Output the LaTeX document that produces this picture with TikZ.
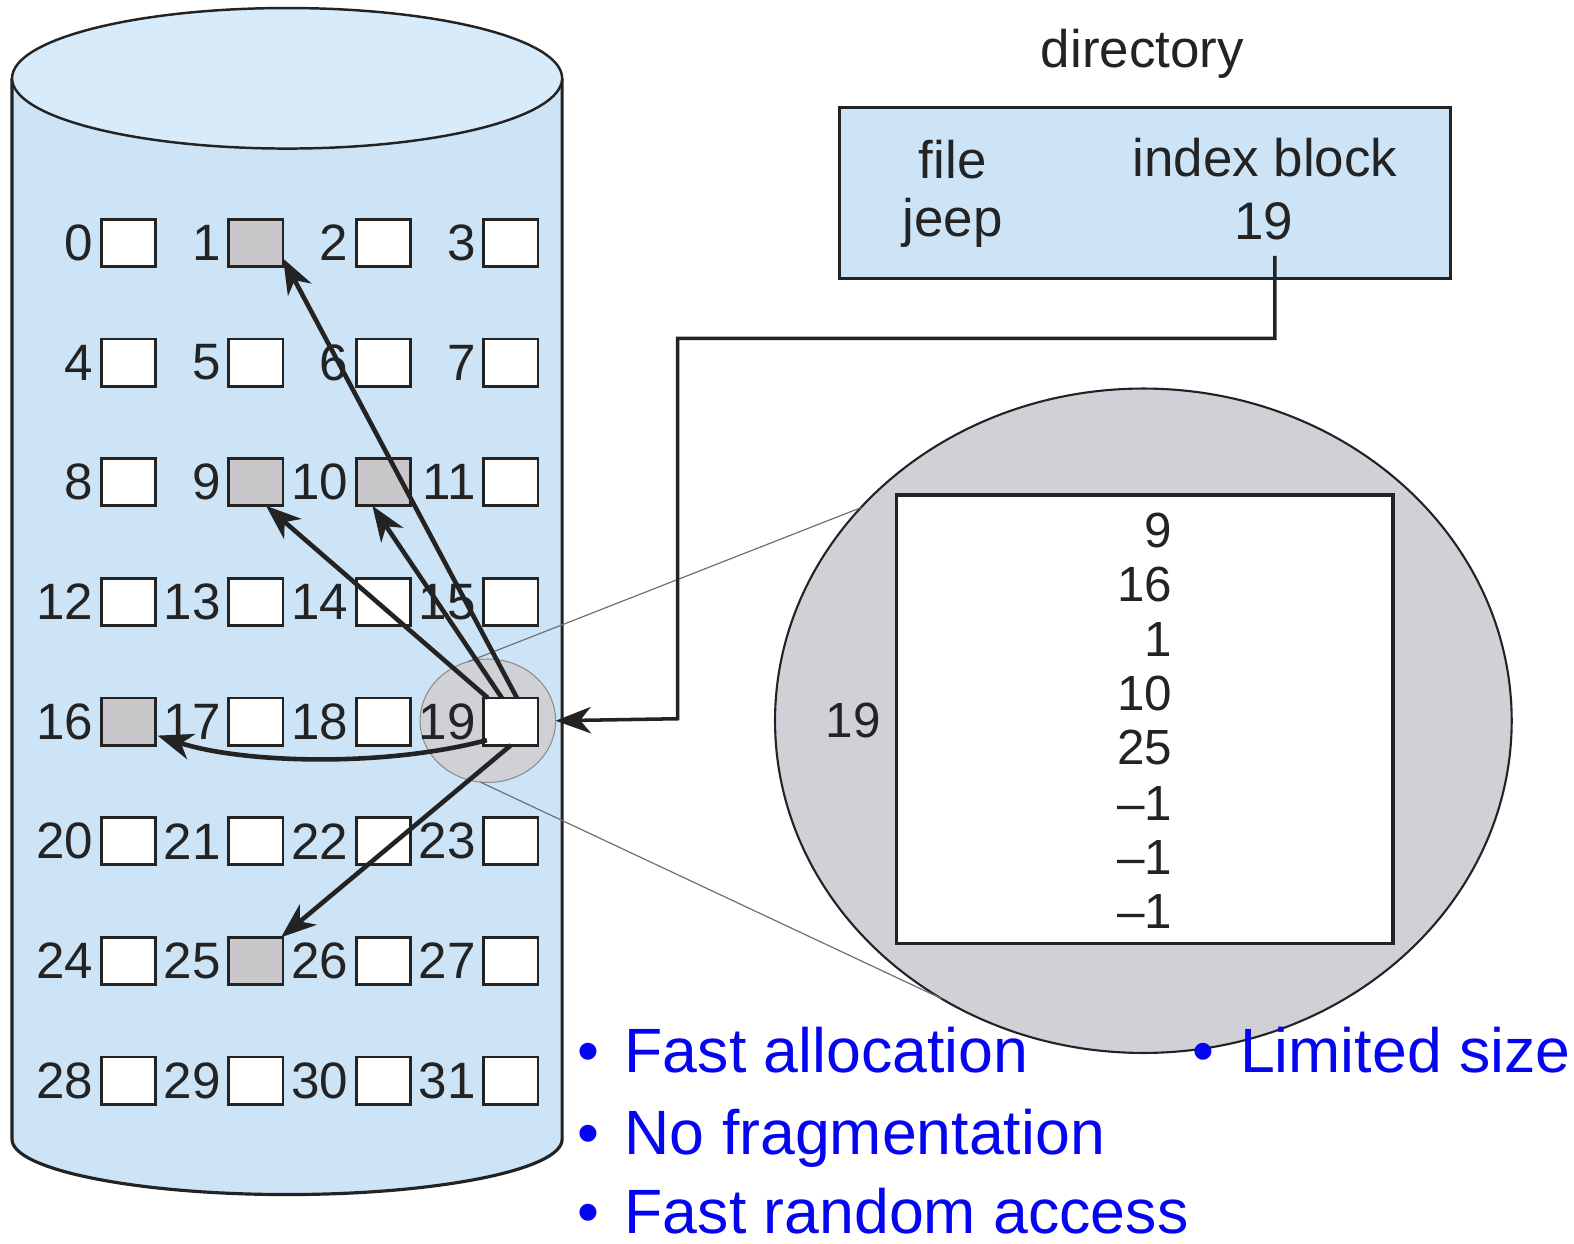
\documentclass[tikz,border=0pt]{standalone}
\usepackage{fontspec}
\setmainfont{Liberation Sans}
\usetikzlibrary{arrows.meta,shapes.geometric,calc}

\definecolor{diskblue}{RGB}{205,228,247}
\definecolor{disktop}{RGB}{216,235,250}
\definecolor{zoomgray}{RGB}{208,209,214}
\definecolor{usedgray}{RGB}{200,200,202}
\definecolor{ink}{RGB}{35,35,35}
\definecolor{notes}{RGB}{5,5,240}

\begin{document}
\begin{tikzpicture}[x=0.02cm,y=-0.02cm,
  blk/.style={draw=ink, line width=1.6pt, fill=white, minimum width=1.08cm,
              minimum height=0.94cm, inner sep=0pt, outer sep=0pt},
  used/.style={blk, fill=usedgray},
  num/.style={anchor=east, inner sep=0pt, text=ink, font=\fontsize{29}{30}\selectfont},
  lbl/.style={anchor=base, inner sep=0pt, text=ink, font=\fontsize{30}{32}\selectfont},
  idx/.style={anchor=base east, inner sep=0pt, text=ink, font=\fontsize{28}{30}\selectfont},
  tip/.style={-{Stealth[length=20pt,width=15pt,inset=6pt]}},
  ptr/.style={line width=2.6pt, draw=ink, tip},
  note/.style={inner sep=0pt, text=notes, font=\fontsize{35.5}{37}\selectfont},
]
\useasboundingbox (0,0) rectangle (1568,1239);

% disk cylinder
\path[fill=diskblue, draw=ink, line width=1.8pt]
  (12,78) -- (12,1135) .. controls (12,1165) and (135,1190) .. (286,1190)
  .. controls (437,1190) and (560,1165) .. (560,1135) -- (560,78);
\draw[fill=disktop, draw=ink, line width=1.4pt] (286,78) ellipse [x radius=274, y radius=70];

% magnified index block and its source
\node[ellipse, draw=ink, line width=1.2pt, fill=zoomgray, minimum width=14.68cm,
      minimum height=13.24cm, inner sep=0pt, outer sep=0pt] (big) at (1139,718) {};
\node[ellipse, draw=black!45, line width=0.6pt, fill=zoomgray, minimum width=2.7cm,
      minimum height=2.46cm, inner sep=0pt, outer sep=0pt] (zoom) at (486,718) {};
\draw[black!55, line width=0.7pt] (zoom.109) -- (big.143);
\draw[black!55, line width=0.7pt] (zoom.263) -- (big.234);

% disk blocks
\foreach \n/\s in {0/blk,1/used,2/blk,3/blk,4/blk,5/blk,6/blk,7/blk,
                   8/blk,9/used,10/used,11/blk,12/blk,13/blk,14/blk,15/blk,
                   16/used,17/blk,18/blk,19/blk,20/blk,21/blk,22/blk,23/blk,
                   24/blk,25/used,26/blk,27/blk,28/blk,29/blk,30/blk,31/blk} {
  \pgfmathtruncatemacro\c{mod(\n,4)}
  \pgfmathtruncatemacro\r{div(\n,4)}
  \node[\s] (b\n) at ({128+127*\c},{242+119.2*\r}) {};
  \node[num] (l\n) at ($(b\n.west)+(-8,0)$) {\n};
}

% pointers held in index block 19
\draw[ptr] ($(b19.north)+(6,0)$) -- ($(b1.south east)+(0,-8)$);
\draw[ptr] ($(b19.north)+(-9,0)$) -- ($(b10.south)+(-11,0)$);
\draw[ptr] ($(b19.north west)+(4,0)$) -- ($(b9.south)+(10,0)$);
\draw[ptr] ($(b19.south west)+(3,-5)$) .. controls (380,765) and (240,760) .. ($(b16.east)+(2,14)$);
\draw[ptr] (b19.south) -- ($(b25.north east)+(-2,0)$);

% contents of the index block
\node[draw=ink, line width=2.2pt, fill=white, minimum width=9.9cm, minimum height=8.94cm,
      inner sep=0pt] (iblock) at (1140.5,716.5) {};
\foreach \v/\y in {9/545,16/599.5,1/654,10/708,25/762,–1/817,–1/871,–1/925}
  \node[idx] at (1168,\y) {\v};
\node[idx, anchor=base] (iname) at (850,735) {19};

% directory
\node[lbl] (dirtitle) at (1138,67) {directory};
\node[draw=ink, line width=1.7pt, fill=diskblue, minimum width=12.18cm, minimum height=3.4cm,
      inner sep=0pt] (dir) at (1140.5,192) {};
\node[lbl] (hfile) at (949,178) {file};
\node[lbl] (hindex) at (1260,176) {index block};
\node[lbl] (jeep) at (949,236) {jeep};
\node[lbl] (jeepidx) at (1259,239) {19};
\coordinate (dirptr) at (1270,255);
\draw[line width=2pt, draw=ink, tip]
  (dirptr) -- (1270,337) -- (675,337) -- (675,716) -- (zoom.east);

% properties
\node[note, anchor=base] (d1) at (586,1068) {•};
\node[note, anchor=base west] (t1) at (622,1068) {Fast allocation};
\node[note, anchor=base] (d2) at (586,1150) {•};
\node[note, anchor=base west] (t2) at (622,1150) {No fragmentation};
\node[note, anchor=base] (d3) at (586,1229) {•};
\node[note, anchor=base west] (t3) at (622,1229) {Fast random access};
\node[note, anchor=base] (d4) at (1199,1068) {•};
\node[note, anchor=base west] (t4) at (1235,1068) {Limited size};
\end{tikzpicture}
\end{document}
